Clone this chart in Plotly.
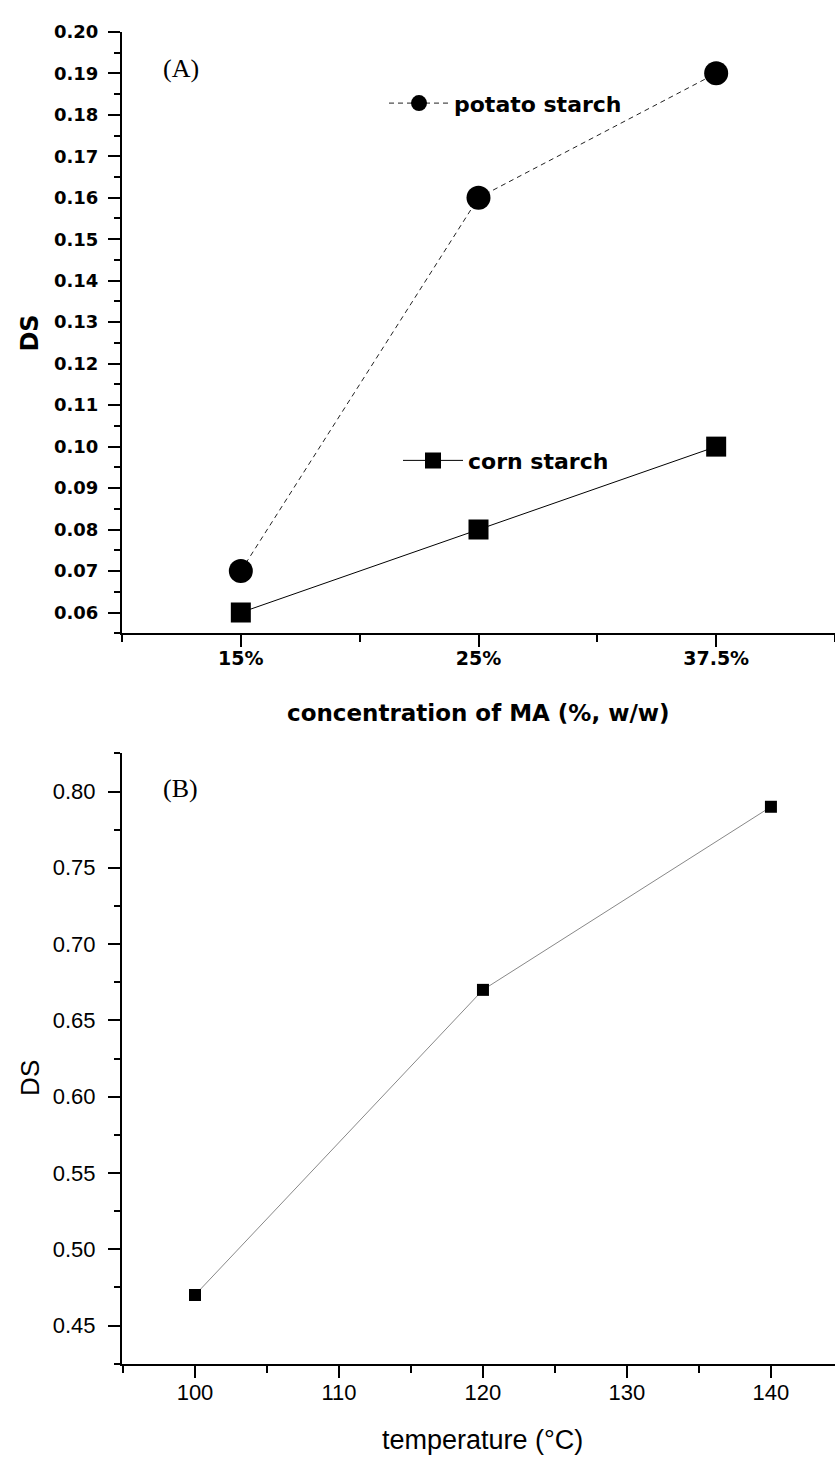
import plotly.graph_objects as go

# ---- data ----
conc_labels = ["15%", "25%", "37.5%"]
conc_index = [0, 1, 2]
potato_ds = [0.07, 0.16, 0.19]
corn_ds = [0.06, 0.08, 0.10]

temperatures = [100, 120, 140]
temp_ds = [0.47, 0.67, 0.79]

W, H = 835, 1458
BOLD = "DejaVu Sans"
REG = "Liberation Sans, Arial"

def px_x(p):
    return p / W

def px_y(p):
    return (H - p) / H

fig = go.Figure()

fig.add_trace(go.Scatter(
    x=conc_index, y=potato_ds, name="potato starch", mode="lines+markers",
    line=dict(color="#222", width=1, dash="5px,4px"),
    marker=dict(symbol="circle", size=24, color="black"),
    xaxis="x", yaxis="y", legend="legend"))
fig.add_trace(go.Scatter(
    x=conc_index, y=corn_ds, name="corn starch", mode="lines+markers",
    line=dict(color="black", width=1),
    marker=dict(symbol="square", size=20, color="black"),
    xaxis="x", yaxis="y", legend="legend2"))
fig.add_trace(go.Scatter(
    x=temperatures, y=temp_ds, mode="lines+markers", showlegend=False,
    line=dict(color="#888", width=1),
    marker=dict(symbol="square", size=12, color="black"),
    xaxis="x2", yaxis="y2"))

axis_common = dict(showline=True, linecolor="black", linewidth=2, ticks="outside",
                   tickwidth=2, tickcolor="black", showgrid=False, zeroline=False,
                   mirror=False)

fig.update_layout(
    width=W, height=H, margin=dict(l=0, r=0, t=0, b=0),
    paper_bgcolor="white", plot_bgcolor="white",
    xaxis=dict(domain=[px_x(122), 1.0], anchor="y", range=[-0.5, 2.5],
               tickmode="array", tickvals=conc_index, ticktext=conc_labels,
               ticklen=12, ticklabelstandoff=-5,
               tickfont=dict(family=BOLD, size=19, color="black", weight="bold"),
               minor=dict(tickmode="array", tickvals=[-0.5, 0.5, 1.5, 2.5], ticks="outside",
                          ticklen=7, tickwidth=2, tickcolor="black"),
               **axis_common),
    yaxis=dict(domain=[px_y(627), px_y(21)], anchor="x", range=[0.055, 0.2],
               dtick=0.01, tick0=0.06, tickformat=".2f", ticklen=12, ticklabelstandoff=6,
               tickfont=dict(family=BOLD, size=18, color="black", weight="bold"),
               minor=dict(dtick=0.005, tick0=0.055, ticks="outside", ticklen=6,
                          tickwidth=2, tickcolor="black"),
               **axis_common),
    xaxis2=dict(domain=[px_x(122), 1.0], anchor="y2", range=[94.93, 144.45],
                dtick=10, tick0=100, ticklen=12, ticklabelstandoff=-4,
                tickfont=dict(family=REG, size=22, color="black"),
                minor=dict(dtick=5, tick0=95, ticks="outside", ticklen=7,
                           tickwidth=2, tickcolor="black"),
                **axis_common),
    yaxis2=dict(domain=[px_y(1363), px_y(748)], anchor="x2", range=[0.425, 0.825],
                dtick=0.05, tick0=0.45, tickformat=".2f", ticklen=12, ticklabelstandoff=8,
                tickfont=dict(family=REG, size=22, color="black"),
                minor=dict(dtick=0.025, tick0=0.425, ticks="outside", ticklen=6,
                           tickwidth=2, tickcolor="black"),
                **axis_common),
    legend=dict(x=px_x(384), y=px_y(93), xanchor="left", yanchor="middle",
                bgcolor="rgba(0,0,0,0)", itemwidth=60,
                font=dict(family=BOLD, size=22, color="black", weight="bold")),
    legend2=dict(x=px_x(398), y=px_y(453), xanchor="left", yanchor="middle",
                 bgcolor="rgba(0,0,0,0)", itemwidth=60,
                 font=dict(family=BOLD, size=22, color="black", weight="bold")),
    showlegend=True,
)

annotations = [
    dict(text="(A)", x=px_x(161), y=px_y(58), xanchor="left", yanchor="middle",
         font=dict(family="Liberation Serif, Times New Roman", size=26, color="black")),
    dict(text="(B)", x=px_x(161), y=px_y(783), xanchor="left", yanchor="middle",
         font=dict(family="Liberation Serif, Times New Roman", size=26, color="black")),
    dict(text="concentration of MA (%, w/w)", x=px_x(478), y=px_y(707),
         xanchor="center", yanchor="middle",
         font=dict(family=BOLD, size=23, color="black", weight="bold")),
    dict(text="DS", x=px_x(30), y=px_y(325), xanchor="center", yanchor="middle",
         textangle=-90, font=dict(family=BOLD, size=24, color="black", weight="bold")),
    dict(text="temperature (\u00b0C)", x=px_x(482), y=px_y(1440),
         xanchor="center", yanchor="middle",
         font=dict(family=REG, size=27, color="black")),
    dict(text="DS", x=px_x(30), y=px_y(1075), xanchor="center", yanchor="middle",
         textangle=-90, font=dict(family=REG, size=26, color="black")),
]
for a in annotations:
    a.update(xref="paper", yref="paper", showarrow=False)
fig.update_layout(annotations=annotations)

fig.write_html("out.html")
